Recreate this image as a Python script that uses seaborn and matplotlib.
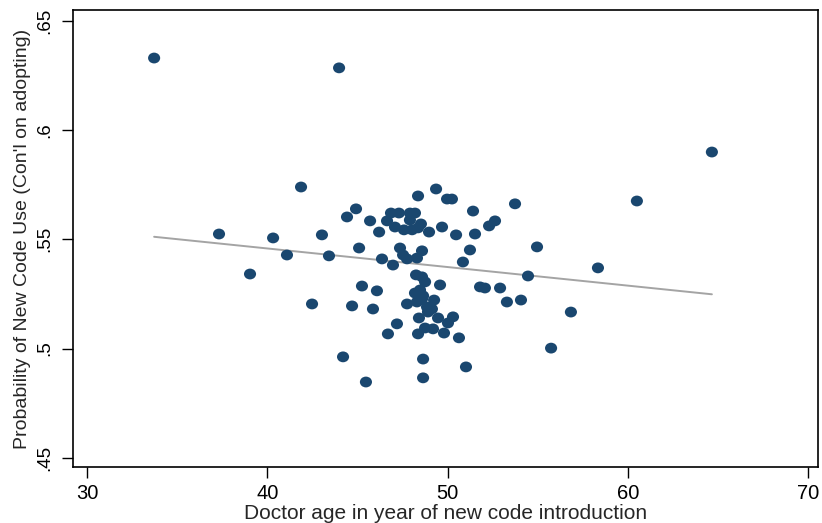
import matplotlib
matplotlib.use("Agg")
import matplotlib.pyplot as plt
import matplotlib.path as mpath
import numpy as np
import seaborn as sns
import pandas as pd

# Doctor age at introduction of a new billing code (years)
age = [
    33.72, 43.98, 64.66, 41.87, 60.50, 37.32, 40.32, 43.03, 41.09, 43.42, 39.04, 42.48,
    48.36, 49.36, 49.97, 50.24, 51.41, 44.42, 44.92, 45.70, 46.20, 46.64, 46.86, 47.30,
    47.91, 48.19, 47.91, 47.08, 47.58, 48.03, 48.36, 48.52, 48.97, 49.69, 50.47, 51.52,
    45.09, 46.36, 46.97, 47.36, 47.53, 47.75, 48.30, 48.58, 51.24, 50.85,
    48.25, 48.58, 48.75, 49.58, 45.25, 46.08, 44.70, 45.86, 48.19, 48.47, 48.64, 48.30,
    48.58, 47.75, 49.25, 48.86, 48.91, 49.13, 49.47, 48.41, 47.19, 46.69, 48.36, 48.75,
    49.19, 49.80, 50.02, 50.30, 50.63, 44.20, 48.64, 51.02, 45.47, 48.64,
    53.74, 52.63, 52.30, 54.96, 54.46, 58.34, 51.80, 52.07, 52.91, 53.29, 54.07, 56.84,
    55.74,
]

# Probability of using the new code, conditional on adopting
prob_use = [
    .6329, .6284, .5899, .5739, .5675, .5524, .5506, .5520, .5428, .5424, .5341, .5204,
    .5698, .5730, .5684, .5684, .5629, .5602, .5639, .5584, .5533, .5584, .5620, .5620,
    .5620, .5620, .5588, .5556, .5543, .5543, .5552, .5570, .5533, .5556, .5520, .5524,
    .5460, .5410, .5382, .5460, .5428, .5410, .5414, .5447, .5451, .5396,
    .5337, .5328, .5305, .5291, .5286, .5264, .5195, .5181, .5254, .5268, .5241, .5213,
    .5227, .5204, .5222, .5190, .5167, .5181, .5140, .5140, .5113, .5067, .5067, .5094,
    .5090, .5071, .5117, .5145, .5049, .4962, .4952, .4916, .4847, .4866,
    .5662, .5584, .5561, .5465, .5332, .5369, .5282, .5277, .5277, .5213, .5222, .5167,
    .5002,
]

x_ticks = [30, 40, 50, 60, 70]
y_ticks = [.45, .5, .55, .6, .65]
y_tick_labels = [".45", ".5", ".55", ".6", ".65"]

df = pd.DataFrame({"age": age, "prob": prob_use})

# slightly wide round marker
circle = mpath.Path.unit_circle()
dot = mpath.Path(circle.vertices * np.array([1.12, 1.0]), circle.codes)

sns.set_theme(style="ticks")
plt.rcParams["font.family"] = ["Liberation Sans", "DejaVu Sans"]

fig = plt.figure(figsize=(8.22, 5.23), dpi=100)
ax = fig.add_axes([0.0888, 0.107, 0.9062, 0.874])

sns.regplot(
    data=df, x="age", y="prob", ax=ax, ci=None, marker=dot,
    scatter_kws=dict(s=76, color="#1a476f", edgecolor="none", alpha=1, zorder=3),
    line_kws=dict(color="#a4a4a4", lw=1.4, zorder=2),
)

ax.set_xlim(29.22, 70.54)
ax.set_ylim(.4458, .6549)
ax.set_xticks(x_ticks)
ax.set_yticks(y_ticks)
ax.set_yticklabels(y_tick_labels, rotation=90, va="center")
ax.tick_params(axis="both", direction="out", length=8, width=1, color="black", labelcolor="black")
ax.tick_params(axis="x", labelsize=14.5, pad=4)
ax.tick_params(axis="y", labelsize=13.5, pad=6)
for s in ax.spines.values():
    s.set_visible(True)
    s.set_color("black")
    s.set_linewidth(1.2)

ax.set_xlabel("Doctor age in year of new code introduction", fontsize=15, labelpad=1)
ax.set_ylabel("Probability of New Code Use (Con'l on adopting)", fontsize=14, labelpad=4)

fig.savefig("out.png", dpi=100)
